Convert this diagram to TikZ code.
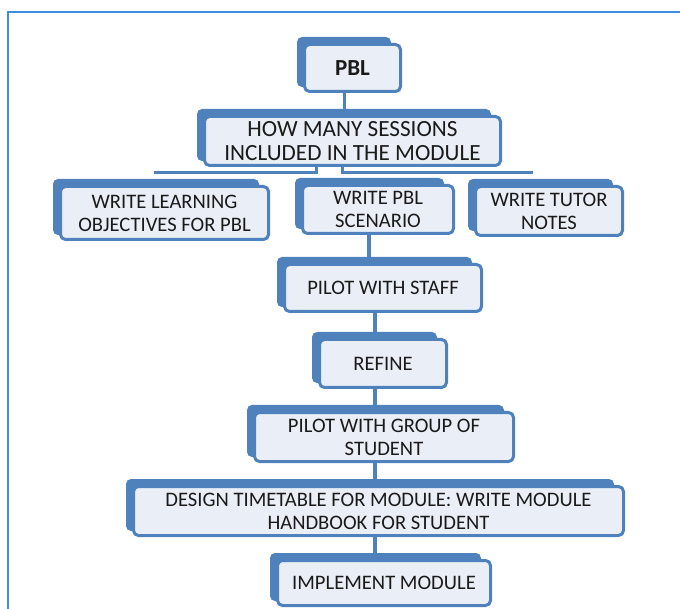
\documentclass[tikz,border=0pt]{standalone}
\usepackage{fontspec}
\setmainfont{Carlito}
\usetikzlibrary{positioning, backgrounds}
\definecolor{BoxBlue}{HTML}{4F81BD}
\definecolor{BoxFill}{HTML}{EAEFF7}
\definecolor{FrameBlue}{HTML}{3D8EE2}
\definecolor{TextGrey}{HTML}{1A1A1A}

\begin{document}
\begin{tikzpicture}[
		x=1pt, y=-1pt,
		BoxCfg/.style={
			draw=BoxBlue, line width=3pt, rounded corners=5pt,
			fill=BoxFill, text=TextGrey, align=center, inner sep=0pt,
			font=\fontsize{20.6}{23}\selectfont
		},
		ConnCfg/.style={draw=BoxBlue, line width=3.5pt},
		ShadowCfg/.style={fill=BoxBlue, rounded corners=5pt}
		]
		
		\useasboundingbox (0,0) rectangle (680,609);
		
		% outer frame
		\draw[FrameBlue, line width=2pt] (680,12.5) -- (8,12.5) -- (8,609);
		
		\path
		(352.5,68) node [BoxCfg, minimum width=96, minimum height=47,
			font=\fontsize{23}{24}\selectfont\bfseries] (PBL) {PBL}
		(352.5,141) node [BoxCfg, minimum width=296, minimum height=49,
			font=\fontsize{23.2}{24}\selectfont] (SESS)
		{HOW MANY SESSIONS\\INCLUDED IN THE MODULE}
		
		(164.5,213) node [BoxCfg, minimum width=208, minimum height=53] (LOBJ)
		{WRITE LEARNING\\OBJECTIVES FOR PBL}
		(378,209.5) node [BoxCfg, minimum width=151, minimum height=48] (SCEN)
		{WRITE PBL\\SCENARIO}
		(549,211) node [BoxCfg, minimum width=147, minimum height=49] (TUTOR)
		{WRITE TUTOR\\NOTES}
		
		(383,288) node [BoxCfg, minimum width=197, minimum height=47] (PSTAFF)
		{PILOT WITH STAFF}
		(383,363.5) node [BoxCfg, minimum width=127, minimum height=48] (REFINE)
		{REFINE}
		(384,437) node [BoxCfg, minimum width=259, minimum height=49] (PGROUP)
		{PILOT WITH GROUP OF\\STUDENT}
		(378.5,511) node [BoxCfg, minimum width=490, minimum height=49] (DESIGN)
		{DESIGN TIMETABLE FOR MODULE: WRITE MODULE\\HANDBOOK FOR STUDENT}
		(384,583) node [BoxCfg, minimum width=213, minimum height=45] (IMPL)
		{IMPLEMENT MODULE};
		
		\coordinate (BusL) at (154,172.5);
		\coordinate (BusR) at (533,172.5);
		\coordinate (Spine) at (375,0);
		
		\begin{scope}[on background layer]
			\draw[ConnCfg] ([xshift=-8]PBL.south) -- ([xshift=-8]SESS.north);
			\draw[ConnCfg] ([xshift=-36]SESS.south) |- (BusL);
			\draw[ConnCfg] ([xshift=-10]SESS.south) |- (BusR);
			\draw[ConnCfg] ([xshift=-9]SCEN.south) -- ([xshift=-9]SCEN.south |- PSTAFF.north);
			\foreach \a/\b in {PSTAFF/REFINE, REFINE/PGROUP, PGROUP/DESIGN, DESIGN/IMPL}
			\draw[ConnCfg] (\a.south -| Spine) -- (\b.north -| Spine);
			
			% dark tabs behind each box
			\foreach \n in {PBL, SESS, LOBJ, SCEN, TUTOR, PSTAFF, REFINE, PGROUP, DESIGN, IMPL}
			\path[ShadowCfg] ([shift={(-6,-6)}]\n.north west) rectangle ([shift={(-11,-6)}]\n.south east);
		\end{scope}
	\end{tikzpicture}
\end{document}
